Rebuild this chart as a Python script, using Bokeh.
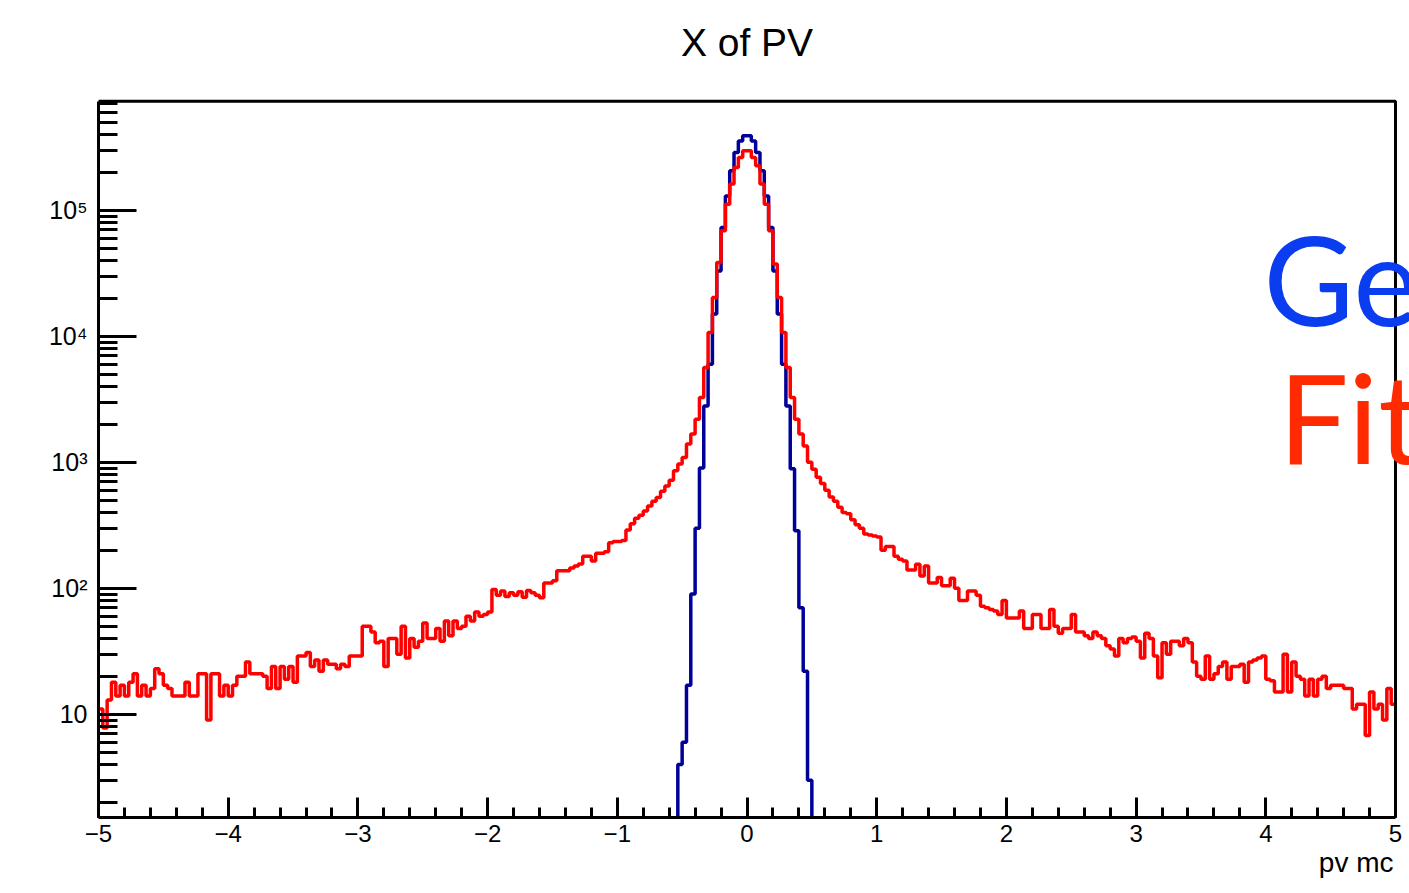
import numpy as np
from bokeh.plotting import figure
from bokeh.models import Range1d, FixedTicker, Label, BoxAnnotation, Title
from bokeh.embed import file_html
from bokeh.resources import INLINE

# ---------------- data ----------------
x_min, x_max, n_bins = -5.0, 5.0, 300
y_min, y_max = 1.517, 7.33e5

# red histogram ("Fit"), bins 0..99
red_counts_left = [
    11, 7.8, 13, 18, 14, 17, 14, 18, 21, 14,
    17, 14, 16, 23, 21, 17, 16, 14, 14, 14,
    18, 14, 14, 21, 21, 9, 21, 21, 14, 17,
    14, 17, 20, 20, 26, 21, 21, 21, 20, 16,
    24, 16, 24, 19, 24, 18, 29, 29, 31, 24,
    27, 22, 27, 25, 25, 23, 25, 24, 29, 29,
    29, 50, 50, 45, 37, 38, 24, 40, 40, 30,
    50, 28, 40, 34, 38, 53, 40, 40, 48, 38,
    55, 42, 55, 48, 50, 60, 55, 65, 60, 62,
    65, 98, 88, 95, 86, 92, 88, 94, 85, 96,
]
# red histogram, bins 100..199
red_counts_mid = [
    92, 88, 84, 110, 110, 115, 138, 138, 138, 145,
    150, 156, 180, 180, 165, 190, 190, 195, 230, 235,
    235, 240, 290, 325, 360, 380, 410, 450, 490, 525,
    590, 650, 720, 857, 968, 1092, 1395, 1675, 2200, 3270,
    5650, 10700, 20300, 38500, 68700, 111900, 161500, 218800, 262400, 296500,
    296500, 262400, 225500, 161500, 111900, 68700, 37400, 20300, 10700, 5650,
    3270, 2200, 1675, 1350, 1000, 880, 760, 680, 600, 530,
    490, 440, 400, 390, 350, 320, 300, 270, 265, 260,
    255, 200, 215, 215, 180, 170, 165, 140, 140, 155,
    125, 150, 110, 110, 122, 105, 105, 120, 100, 80,
]
# red histogram, bins 200..299
red_counts_right = [
    80, 95, 95, 88, 72, 70, 68, 66, 62, 80,
    58, 58, 58, 66, 48, 48, 62, 62, 48, 48,
    68, 50, 44, 48, 48, 62, 45, 45, 42, 40,
    45, 42, 40, 35, 33, 29, 40, 37, 40, 41,
    38, 28, 44, 40, 29, 19.5, 37, 30, 38, 38,
    35, 40, 37, 26, 20, 19, 29, 19, 21, 24,
    26, 19, 24, 24, 25, 18, 26, 27, 28, 29,
    19, 18.5, 15, 15, 30, 15, 26, 20, 19, 14,
    19, 14, 19, 20, 16, 17, 17, 17, 16, 16,
    11, 12, 12, 6.8, 15, 11, 12, 9, 16, 12,
]

# blue histogram ("Gen"), non-empty bins 134..164
blue_first_bin = 134
blue_counts = [
    4, 6, 17, 90, 300, 900, 2800, 6000, 15000, 33000,
    73000, 130000, 206000, 288000, 355000, 390000, 390000, 355000, 288000, 206000,
    130000, 73000, 33000, 15000, 6000, 2800, 890, 286, 70, 22,
    3,
]

x_tick_values = [-5, -4, -3, -2, -1, 0, 1, 2, 3, 4, 5]
x_tick_labels = ["\u22125", "\u22124", "\u22123", "\u22122", "\u22121", "0", "1", "2", "3", "4", "5"]
y_tick_values = [10, 100, 1000, 10000, 100000]
y_tick_labels = ["10", "10\u00b2", "10\u00b3", "10\u2074", "10\u2075"]

title_text = "X of PV"
x_title = "pv mc"
word_gen = "Ge"
word_fit = "Fit"

# ---------------- layout constants ----------------
W, H = 1409, 893
LEFT, BOTTOM = 98, 76            # frame: x 98..1409, y 0..817
PX_PER_X = 129.7                 # pixels per unit of x
PX_PER_DEC = 126.0               # pixels per decade of y
frame_h = H - BOTTOM
x_end = x_min + (W - LEFT) / PX_PER_X          # frame extends past x=5 (for overlay words)
y_top = 10 ** (np.log10(y_min) + frame_h / PX_PER_DEC)  # frame extends above histogram box


def page_y_to_data(py):
    return 10 ** (np.log10(y_min) + (frame_h - py) / PX_PER_DEC)


def page_x_to_data(px):
    return x_min + (px - LEFT) / PX_PER_X


# ---------------- helpers ----------------
edges = np.linspace(x_min, x_max, n_bins + 1)
red_counts = np.array(red_counts_left + red_counts_mid + red_counts_right, dtype=float)


def step_xy(e, v, floor=None):
    xs = np.repeat(e, 2)[1:-1]
    ys = np.repeat(np.asarray(v, dtype=float), 2)
    if floor is not None:
        xs = np.concatenate([[e[0]], xs, [e[-1]]])
        ys = np.concatenate([[floor], ys, [floor]])
    return xs, ys


FONT = "Liberation Sans"

p = figure(
    width=W, height=H,
    title=None,
    x_range=Range1d(x_min, x_end),
    y_range=Range1d(y_min, y_top),
    y_axis_type="log",
    output_backend="svg",
    toolbar_location=None,
    min_border_left=LEFT, min_border_right=0,
    min_border_top=0, min_border_bottom=BOTTOM,
)
p.xgrid.visible = False
p.ygrid.visible = False
p.background_fill_color = "white"
p.border_fill_color = "white"
p.outline_line_color = None

# histogram box (frame of the histogram)
p.add_layout(BoxAnnotation(left=x_min, right=x_max, bottom=y_min, top=y_max,
                           fill_color=None, fill_alpha=0,
                           line_color="black", line_alpha=1.0, line_width=3))

# blue first, red on top
bx, by = step_xy(edges[blue_first_bin:blue_first_bin + len(blue_counts) + 1], blue_counts, floor=0.01)
p.line(bx, by, line_color="#000099", line_width=3.5)
rx, ry = step_xy(edges, red_counts)
p.line(rx, ry, line_color="#ff0000", line_width=3.5)

# x axis
xa = p.xaxis[0]
xa.bounds = (x_min, x_max)
xa.ticker = FixedTicker(ticks=x_tick_values,
                        minor_ticks=[round(v, 1) for v in np.arange(-5, 5.001, 0.2)])
xa.major_label_overrides = dict(zip(x_tick_values, x_tick_labels))
xa.major_tick_in = 20
xa.major_tick_out = 0
xa.minor_tick_in = 10
xa.minor_tick_out = 0
xa.major_tick_line_width = 3
xa.minor_tick_line_width = 3
xa.axis_line_width = 3
xa.major_label_text_font = FONT
xa.major_label_text_font_size = "24px"
xa.major_label_text_color = "black"
xa.major_label_standoff = 7

# y axis
ya = p.yaxis[0]
ya.bounds = (y_min, y_max)
ya.ticker = FixedTicker(ticks=y_tick_values,
                        minor_ticks=[m * 10 ** e for e in range(0, 6) for m in range(2, 10)
                                     if m * 10 ** e <= 7e5])
ya.major_label_overrides = dict(zip(y_tick_values, y_tick_labels))
ya.major_tick_in = 38
ya.major_tick_out = 0
ya.minor_tick_in = 19
ya.minor_tick_out = 0
ya.major_tick_line_width = 3
ya.minor_tick_line_width = 3
ya.axis_line_width = 3
ya.major_label_text_font = FONT
ya.major_label_text_font_size = "25px"
ya.major_label_text_color = "black"
ya.major_label_standoff = 11

# title (inside the extended frame, above the histogram box)
p.add_layout(Label(x=(x_min + x_max) / 2, y=page_y_to_data(42), text=title_text,
                   text_align="center", text_baseline="middle",
                   text_font=FONT, text_font_size="39px", text_color="black"))

# x-axis title, right aligned at x = 5
xt = Title(text=x_title, align="right", offset=W - (LEFT + (x_max - x_min) * PX_PER_X) + 2,
           text_font=FONT, text_font_size="28px", text_font_style="normal",
           text_color="black")
try:
    xt.standoff = 0
except Exception:
    pass
p.add_layout(xt, "below")

# handwritten-style overlay words, cut by the right edge
p.add_layout(Label(x=page_x_to_data(1263), y=page_y_to_data(277), text=word_gen,
                   text_align="left", text_baseline="middle",
                   text_font="Lato", text_font_size="124px", text_color="#0a3cf0"))
p.add_layout(Label(x=page_x_to_data(1278), y=page_y_to_data(415), text=word_fit,
                   text_align="left", text_baseline="middle",
                   text_font="Lato", text_font_size="124px", text_color="#ff2a00"))

open("out.html", "w").write(file_html(p, INLINE))
